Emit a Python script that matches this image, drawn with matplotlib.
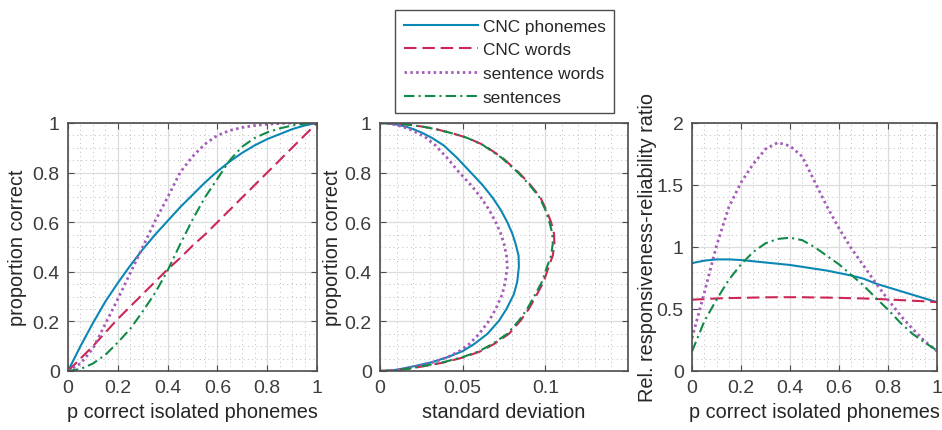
import numpy as np
import matplotlib
matplotlib.use('Agg')
import matplotlib.pyplot as plt
from matplotlib.ticker import MultipleLocator, FuncFormatter

plt.rcParams['font.family'] = ['Liberation Sans', 'DejaVu Sans']

# p correct isolated phonemes (shared x for panels 1 and 3)
p = [0, 0.05, 0.1, 0.15, 0.2, 0.25, 0.3, 0.35, 0.4, 0.45, 0.5,
     0.55, 0.6, 0.65, 0.7, 0.75, 0.8, 0.85, 0.9, 0.95, 1.0]

# panel 1: proportion correct
pc_phon = [0, 0.10, 0.193, 0.28, 0.355, 0.425, 0.49, 0.55, 0.605, 0.66, 0.71,
           0.76, 0.805, 0.845, 0.88, 0.91, 0.935, 0.955, 0.975, 0.99, 1.0]
pc_words = [0, 0.05, 0.1, 0.155, 0.21, 0.26, 0.31, 0.36, 0.41, 0.455, 0.505,
            0.55, 0.6, 0.65, 0.7, 0.75, 0.8, 0.85, 0.9, 0.95, 1.0]
pc_sentw = [0, 0.03, 0.09, 0.19, 0.29, 0.395, 0.5, 0.605, 0.7, 0.8, 0.865,
            0.915, 0.95, 0.97, 0.982, 0.99, 0.995, 0.998, 1.0, 1.0, 1.0]
pc_sent = [0, 0.008, 0.03, 0.065, 0.115, 0.17, 0.24, 0.315, 0.405, 0.51, 0.61,
           0.70, 0.775, 0.85, 0.905, 0.94, 0.962, 0.978, 0.99, 0.997, 1.0]

# panel 2: standard deviation at proportion-correct levels
pc_levels = [0, 0.001, 0.004, 0.01, 0.02, 0.035, 0.056, 0.08, 0.109, 0.15, 0.203,
             0.25, 0.31, 0.36, 0.42, 0.465, 0.513, 0.555, 0.6, 0.65, 0.7,
             0.75, 0.8, 0.86, 0.91, 0.94, 0.96, 0.975, 0.984, 0.992, 0.996, 0.999, 1]
sd_phon = [0, 0.0045, 0.009, 0.014, 0.021, 0.031, 0.041, 0.050, 0.057, 0.065, 0.072,
           0.0765, 0.081, 0.083, 0.084, 0.0838, 0.082, 0.080, 0.077, 0.073, 0.068,
           0.062, 0.055, 0.0465, 0.0385, 0.0314, 0.0256, 0.0203, 0.0162, 0.0115, 0.0081, 0.004, 0]
sd_words = [0, 0.0055, 0.011, 0.018, 0.027, 0.039, 0.051, 0.061, 0.069, 0.078, 0.085,
            0.090, 0.095, 0.099, 0.102, 0.1045, 0.1055, 0.1052, 0.1035, 0.1005, 0.097,
            0.091, 0.084, 0.074, 0.063, 0.053, 0.043, 0.034, 0.027, 0.019, 0.0135, 0.0067, 0]
sd_sentw = [0, 0.005, 0.010, 0.016, 0.023, 0.032, 0.041, 0.048, 0.054, 0.060, 0.066,
            0.070, 0.074, 0.0758, 0.077, 0.0765, 0.075, 0.073, 0.070, 0.066, 0.061,
            0.055, 0.048, 0.0405, 0.0335, 0.028, 0.0225, 0.0178, 0.014, 0.0098, 0.007, 0.0035, 0]
sd_sent = [0, 0.0055, 0.011, 0.018, 0.026, 0.038, 0.050, 0.060, 0.068, 0.077, 0.084,
           0.089, 0.094, 0.098, 0.101, 0.1035, 0.1045, 0.1042, 0.1025, 0.1, 0.0965,
           0.0905, 0.0835, 0.0735, 0.0625, 0.0527, 0.0428, 0.0338, 0.0268, 0.0189, 0.0134, 0.0067, 0]

# panel 3: relative responsiveness-reliability ratio
rr_phon = [0.87, 0.89, 0.9, 0.9, 0.895, 0.885, 0.875, 0.865, 0.855, 0.84, 0.825,
           0.81, 0.79, 0.77, 0.745, 0.705, 0.675, 0.645, 0.615, 0.585, 0.555]
rr_words = [0.575, 0.58, 0.585, 0.588, 0.59, 0.592, 0.594, 0.595, 0.595, 0.595, 0.593,
            0.592, 0.59, 0.587, 0.585, 0.581, 0.577, 0.572, 0.567, 0.562, 0.555]
rr_sentw = [0.265, 0.63, 1.01, 1.32, 1.52, 1.67, 1.79, 1.842, 1.815, 1.73, 1.53,
            1.33, 1.15, 0.99, 0.85, 0.71, 0.576, 0.45, 0.34, 0.24, 0.16]
rr_sent = [0.157, 0.4, 0.575, 0.735, 0.86, 0.96, 1.03, 1.065, 1.075, 1.055, 1.0,
           0.93, 0.86, 0.775, 0.69, 0.59, 0.495, 0.39, 0.3, 0.23, 0.165]

labels = ['CNC phonemes', 'CNC words', 'sentence words', 'sentences']
colors = ['#0b87b5', '#cc2556', '#a45cb8', '#128a47']
styles = ['-', (0, (6, 2.8)), (0, (0.9, 1.2)), (0, (5, 2, 1, 2))]
widths = [1.5, 1.5, 2.0, 1.5]

fig = plt.figure(figsize=(9.42, 4.31), dpi=100)
ax1 = fig.add_axes([68/942, 59/431, 249/942, 248/431])
ax2 = fig.add_axes([380/942, 59/431, 248/942, 248/431])
ax3 = fig.add_axes([692/942, 59/431, 245/942, 248/431])

fmt = FuncFormatter(lambda v, pos: '%g' % round(v, 4))
LABEL_FS = 14.3


def style_axes(ax, xmaj, xmin, ymaj, ymin):
    ax.xaxis.set_major_locator(MultipleLocator(xmaj))
    ax.xaxis.set_minor_locator(MultipleLocator(xmin))
    ax.yaxis.set_major_locator(MultipleLocator(ymaj))
    ax.yaxis.set_minor_locator(MultipleLocator(ymin))
    ax.xaxis.set_major_formatter(fmt)
    ax.yaxis.set_major_formatter(fmt)
    ax.grid(which='major', color='#dcdcdc', lw=0.9, ls='-')
    ax.grid(which='minor', color='#bcbcbc', lw=0.7, ls=(0, (1, 3.5)))
    ax.set_axisbelow(True)
    ax.tick_params(which='major', direction='in', length=4, width=0.8,
                   colors='#4d4d4d', labelcolor='#3c3c3c', labelsize=14,
                   top=True, right=True, pad=6)
    ax.tick_params(which='minor', length=0)
    for s in ax.spines.values():
        s.set_color('#4d4d4d')
        s.set_linewidth(1.2)


series1 = [pc_phon, pc_words, pc_sentw, pc_sent]
series2 = [sd_phon, sd_words, sd_sentw, sd_sent]
series3 = [rr_phon, rr_words, rr_sentw, rr_sent]

handles = []
for i in range(4):
    h, = ax1.plot(p, series1[i], color=colors[i], ls=styles[i], lw=widths[i], label=labels[i])
    handles.append(h)
    ax2.plot(series2[i], pc_levels, color=colors[i], ls=styles[i], lw=widths[i])
    ax3.plot(p, series3[i], color=colors[i], ls=styles[i], lw=widths[i])

ax1.set_xlim(0, 1)
ax1.set_ylim(0, 1)
style_axes(ax1, 0.2, 0.05, 0.2, 0.05)
ax1.set_xlabel('p correct isolated phonemes', fontsize=LABEL_FS, color='#262626', labelpad=4)
ax1.set_ylabel('proportion correct', fontsize=LABEL_FS, color='#262626', labelpad=4)

ax2.set_xlim(0, 0.15)
ax2.set_ylim(0, 1)
style_axes(ax2, 0.05, 0.01, 0.2, 0.05)
ax2.set_xticks([0, 0.05, 0.1])
ax2.set_xlabel('standard deviation', fontsize=LABEL_FS, color='#262626', labelpad=4)
ax2.set_ylabel('proportion correct', fontsize=LABEL_FS, color='#262626', labelpad=2)

ax3.set_xlim(0, 1)
ax3.set_ylim(0, 2)
style_axes(ax3, 0.2, 0.05, 0.5, 0.1)
ax3.set_xlabel('p correct isolated phonemes', fontsize=LABEL_FS, color='#262626', labelpad=4)
ax3.set_ylabel('Rel. responsiveness-reliability ratio', fontsize=LABEL_FS, color='#262626', labelpad=0)

leg = fig.legend(handles=handles, loc='upper left', bbox_to_anchor=(395/942, 1 - 11/431),
                 borderaxespad=0, fontsize=12.4, handlelength=4.3, labelspacing=0.5,
                 fancybox=False, framealpha=1, edgecolor='#4d4d4d', borderpad=0.5,
                 handletextpad=0.3)
leg.get_frame().set_linewidth(1.0)
for t in leg.get_texts():
    t.set_color('#262626')

fig.savefig('out.png', dpi=100)
